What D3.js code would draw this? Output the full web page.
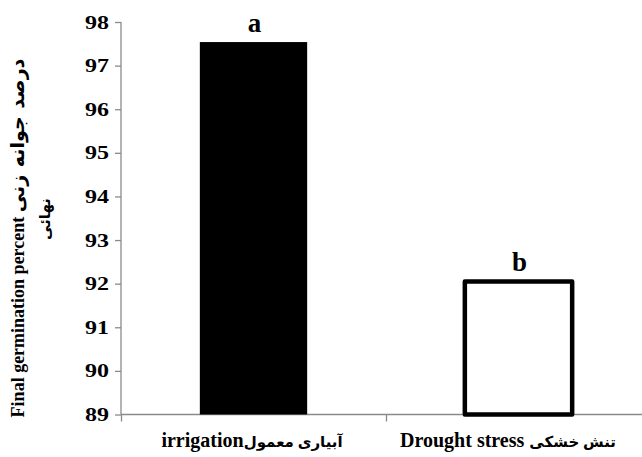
<!DOCTYPE html>
<html>
<head>
<meta charset="utf-8">
<script src="https://cdn.jsdelivr.net/npm/d3@7"></script>
<style>
  body { margin: 0; background: #fff; }
  text { font-family: "Liberation Serif", "DejaVu Sans", serif; font-weight: bold; }
</style>
</head>
<body>
<div id="chart"></div>
<script>
// data
var catLatin = ["irrigation", "Drought stress "];
var catFarsi = ["آبیاری معمول", "تنش خشکی"];
var values = [97.54, 92.05];
var letters = ["a", "b"];
var fills = ["#000", "#fff"];
var yTicks = [89, 90, 91, 92, 93, 94, 95, 96, 97, 98];

var width = 642, height = 457;

var svg = d3.select('#chart')
    .append('svg')
    .attr('width', width)
    .attr('height', height);

var mLeft = 121, mRight = 651, mTop = 22, mBottom = 414.5;

// scales
var xBand = d3.scaleBand().domain(catLatin).range([mLeft, mRight]).padding(0);
var xEdge = d3.scaleLinear().domain([0, catLatin.length]).range([mLeft, mRight]);
var yScale = d3.scaleLinear().domain([89, 98]).range([mBottom, mTop]);

var axisColor = '#8a8a8a';

// y axis
var yAxis = svg.append('g')
    .attr('transform', `translate(${mLeft},0)`)
    .call(d3.axisLeft(yScale).tickValues(yTicks).tickSize(6).tickPadding(6).tickFormat(d3.format('d')));
yAxis.select('.domain').attr('stroke', axisColor).attr('stroke-width', 1.3).attr('d', `M0,${mTop}V${mBottom}`);
yAxis.selectAll('.tick line').attr('stroke', axisColor).attr('stroke-width', 1.3);
yAxis.selectAll('.tick text')
    .attr('fill', '#000')
    .attr('textLength', 24)
    .attr('lengthAdjust', 'spacingAndGlyphs')
    .style('font-size', '19px')
    .style('font-family', '"Liberation Serif", serif');

// x axis (ticks at category edges)
var xAxis = svg.append('g')
    .attr('transform', `translate(0,${mBottom})`)
    .call(d3.axisBottom(xEdge).tickValues(d3.range(catLatin.length + 1)).tickSize(7).tickFormat(''));
xAxis.select('.domain').attr('stroke', axisColor).attr('stroke-width', 1.3).attr('d', `M${mLeft},0H${mRight}`);
xAxis.selectAll('.tick line').attr('stroke', axisColor).attr('stroke-width', 1.3);

// bars
var barW = xBand.bandwidth() * 0.405;
svg.selectAll('rect.bar')
    .data(values)
    .enter()
    .append('rect')
    .attr('class', 'bar')
    .attr('x', (d, i) => xBand(catLatin[i]) + xBand.bandwidth() / 2 - barW / 2)
    .attr('y', d => yScale(d))
    .attr('width', barW)
    .attr('height', d => mBottom - yScale(d))
    .attr('fill', (d, i) => fills[i])
    .attr('stroke', (d, i) => i === 1 ? '#000' : 'none')
    .attr('stroke-width', 4.5)
    .attr('stroke-linejoin', 'round');

// significance letters
svg.selectAll('text.letter')
    .data(values)
    .enter()
    .append('text')
    .attr('class', 'letter')
    .attr('x', (d, i) => xBand(catLatin[i]) + xBand.bandwidth() / 2 + 1)
    .attr('y', d => yScale(d) - 10)
    .attr('text-anchor', 'middle')
    .style('font-size', '27px')
    .text((d, i) => letters[i]);

// category labels
var labelX = [252, 508];
var cats = svg.selectAll('text.cat')
    .data(catLatin)
    .enter()
    .append('text')
    .attr('class', 'cat')
    .attr('x', (d, i) => labelX[i])
    .attr('y', 447)
    .attr('text-anchor', 'middle');
cats.append('tspan').style('font-size', '20px').text(d => d);
cats.append('tspan').style('font-size', '15px').text((d, i) => catFarsi[i]);

// y title
var yText = svg.append('g').attr('transform', `translate(24,238)rotate(-90)`);
var yLine = yText.append('text').attr('text-anchor', 'middle');
yLine.append('tspan').style('font-size', '18px').text('Final germination percent ');
yLine.append('tspan').style('font-size', '19px').attr('word-spacing', 3).text('درصد جوانه زنی');
yText.append('text')
    .attr('x', 19)
    .attr('y', 26)
    .attr('text-anchor', 'middle')
    .style('font-size', '15px')
    .text('نهائی');
</script>
</body>
</html>
